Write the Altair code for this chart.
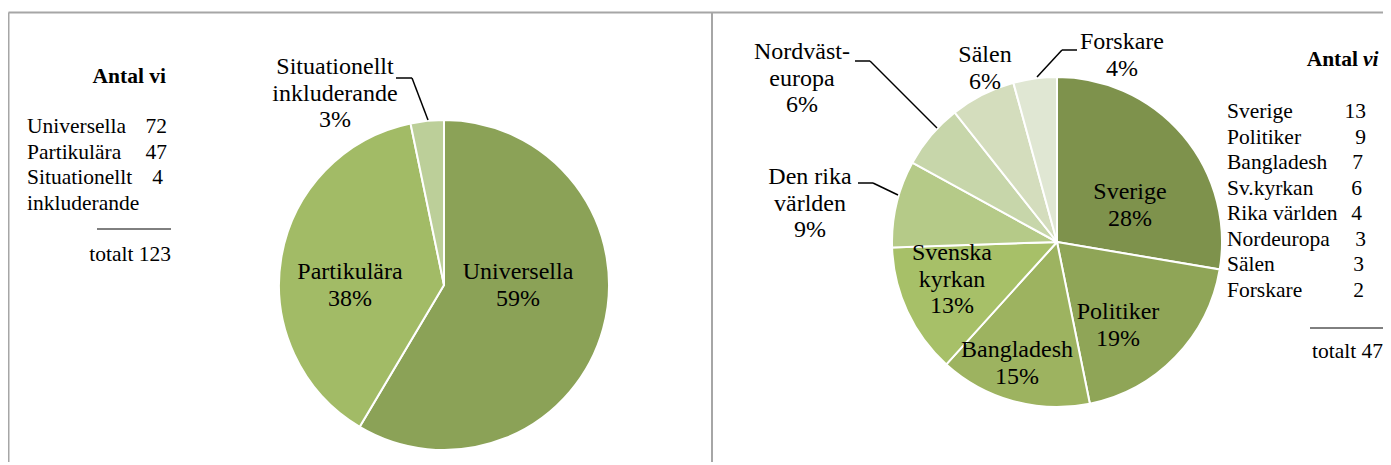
import altair as alt
import pandas as pd

# ---------------- data ----------------
left_cats = ["Universella", "Partikulära", "Situationellt inkluderande"]
left_vals = [72, 47, 4]
left_pie_labels = [["Universella"], ["Partikulära"], ["Situationellt", "inkluderande"]]
left_colors = ["#8ba257", "#a2bb66", "#bccf99"]

right_cats = ["Sverige", "Politiker", "Bangladesh", "Svenska kyrkan",
              "Den rika världen", "Nordvästeuropa", "Sälen", "Forskare"]
right_vals = [13, 9, 7, 6, 4, 3, 3, 2]
right_pie_labels = [["Sverige"], ["Politiker"], ["Bangladesh"], ["Svenska", "kyrkan"],
                    ["Den rika", "världen"], ["Nordväst-", "europa"], ["Sälen"], ["Forskare"]]
right_colors = ["#7e924c", "#8fa557", "#9db360", "#a7c068",
                "#b5ca88", "#c7d6aa", "#d4ddbd", "#e0e7d3"]

left_legend_names = ["Universella", "Partikulära", "Situationellt"]
right_legend_names = ["Sverige", "Politiker", "Bangladesh", "Sv.kyrkan",
                      "Rika världen", "Nordeuropa", "Sälen", "Forskare"]

# ---------------- layout (page px, minus 8px margin) ----------------
M = 8
FONT = "Liberation Serif"
PIE_FS = 24
LEG_FS = 21.5
R = 165
L_CX, L_CY = 444 - M, 285 - M
R_CX, R_CY = 1057 - M, 242 - M

left_label_pos = [(518, 272), (350, 272), (335, 67)]
right_label_pos = [(1130, 192), (1118, 312), (1017, 350), (952, 253),
                   (810, 177), (802, 52), (985, 55), (1122, 42)]
LINE_H = 26.5

left_leg_x, left_leg_y0, leg_step = 27, 127, 25.5
left_num_x = [167, 167, 163]
right_leg_x, right_leg_y0 = 1227, 112
right_num_x = [1366, 1366, 1363, 1362, 1362, 1366, 1364, 1364]


def pie_df(cats, vals):
    return pd.DataFrame({"cat": cats, "v": vals, "idx": list(range(len(cats)))})


def pct(v, tot):
    return f"{round(v / tot * 100 + 1e-9):d}%"


def pie_layers(cats, vals, colors, cx, cy):
    df = pie_df(cats, vals)
    shadow = alt.Chart(pd.DataFrame({"a": [1]})).mark_circle(
        size=3.14159 * (R + 2) ** 2, color="#c4c4c4", opacity=0.55
    ).encode(x=alt.value(cx + 1), y=alt.value(cy + 4))
    pie = alt.Chart(df).mark_arc(radius=R, stroke="white", strokeWidth=2).encode(
        theta=alt.Theta("v:Q", stack="normalize"),
        color=alt.Color("cat:N", scale=alt.Scale(domain=cats, range=colors), legend=None),
        order=alt.Order("idx:Q"),
        x=alt.value(cx), y=alt.value(cy),
    )
    return [shadow, pie]


def label_rows(labels, vals, positions):
    tot = sum(vals)
    rows = []
    for lines, v, (x, y) in zip(labels, vals, positions):
        all_lines = lines + [pct(v, tot)]
        for i, t in enumerate(all_lines):
            rows.append({"t": t, "x": x - M, "y": y - M + i * LINE_H})
    return pd.DataFrame(rows)


def text_layer(df, align="center", size=PIE_FS, weight="normal", style="normal"):
    return alt.Chart(df).mark_text(
        font=FONT, fontSize=size, align=align, baseline="middle",
        fontWeight=weight, fontStyle=style, color="black"
    ).encode(
        x=alt.X("x:Q", scale=None, axis=None),
        y=alt.Y("y:Q", scale=None, axis=None),
        text="t:N",
    )


def rule_layer(segs, color="black", width=1.5):
    df = pd.DataFrame(segs, columns=["x", "y", "x2", "y2"])
    df[["x", "x2"]] -= M
    df[["y", "y2"]] -= M
    return alt.Chart(df).mark_rule(color=color, strokeWidth=width).encode(
        x=alt.X("x:Q", scale=None, axis=None), x2="x2:Q",
        y=alt.Y("y:Q", scale=None, axis=None), y2="y2:Q",
    )


layers = []

# panel borders
layers.append(rule_layer([(8.5, 12.5, 1400, 12.5), (8.5, 12.5, 8.5, 480),
                          (712, 12.5, 712, 480)], color="#a6a6a6", width=2))

# pies
layers += pie_layers(left_cats, left_vals, left_colors, L_CX, L_CY)
layers += pie_layers(right_cats, right_vals, right_colors, R_CX, R_CY)

# pie labels
layers.append(text_layer(label_rows(left_pie_labels, left_vals, left_label_pos)))
layers.append(text_layer(label_rows(right_pie_labels, right_vals, right_label_pos)))

# leader lines
layers.append(rule_layer([
    (396, 78, 412, 78), (412, 78, 428, 120),
    (855, 61, 870, 61), (870, 61, 937, 128),
    (858, 183, 873, 183), (873, 183, 898, 195),
    (1077, 50, 1062, 50), (1062, 50, 1037, 77),
], width=1.5))

# left legend
ll_names = pd.DataFrame(
    [{"t": n, "x": left_leg_x - M, "y": left_leg_y0 - M + i * leg_step}
     for i, n in enumerate(left_legend_names)]
    + [{"t": "inkluderande", "x": left_leg_x - M,
        "y": left_leg_y0 - M + len(left_legend_names) * leg_step}]
)
ll_nums = pd.DataFrame(
    [{"t": str(v), "x": left_num_x[i] - M, "y": left_leg_y0 - M + i * leg_step}
     for i, v in enumerate(left_vals)]
)
layers.append(text_layer(pd.DataFrame([{"t": "Antal vi", "x": 166 - M, "y": 77 - M}]),
                         align="right", size=LEG_FS, weight="bold"))
layers.append(text_layer(ll_names, align="left", size=LEG_FS))
layers.append(text_layer(ll_nums, align="right", size=LEG_FS))
layers.append(rule_layer([(97, 229, 171, 229)], width=1))
layers.append(text_layer(pd.DataFrame([{"t": f"totalt {sum(left_vals)}", "x": 171 - M, "y": 255 - M}]),
                         align="right", size=LEG_FS))

# right legend
rl_names = pd.DataFrame(
    [{"t": n, "x": right_leg_x - M, "y": right_leg_y0 - M + i * leg_step}
     for i, n in enumerate(right_legend_names)]
)
rl_nums = pd.DataFrame(
    [{"t": str(v), "x": right_num_x[i] - M, "y": right_leg_y0 - M + i * leg_step}
     for i, v in enumerate(right_vals)]
)
layers.append(text_layer(pd.DataFrame([{"t": "Antal", "x": 1358 - M, "y": 60 - M}]),
                         align="right", size=LEG_FS, weight="bold"))
layers.append(text_layer(pd.DataFrame([{"t": "vi", "x": 1363 - M, "y": 60 - M}]),
                         align="left", size=LEG_FS, weight="bold", style="italic"))
layers.append(text_layer(rl_names, align="left", size=LEG_FS))
layers.append(text_layer(rl_nums, align="right", size=LEG_FS))
layers.append(rule_layer([(1310, 328, 1383, 328)], width=1))
layers.append(text_layer(pd.DataFrame([{"t": f"totalt {sum(right_vals)}", "x": 1383 - M, "y": 352 - M}]),
                         align="right", size=LEG_FS))

chart = alt.layer(*layers).resolve_scale(
    theta="independent", color="independent"
).properties(
    width=1375, height=454, padding=0, autosize="none"
).configure_view(stroke=None)

chart.save("out.html", embed_options={"renderer": "svg", "actions": False})
